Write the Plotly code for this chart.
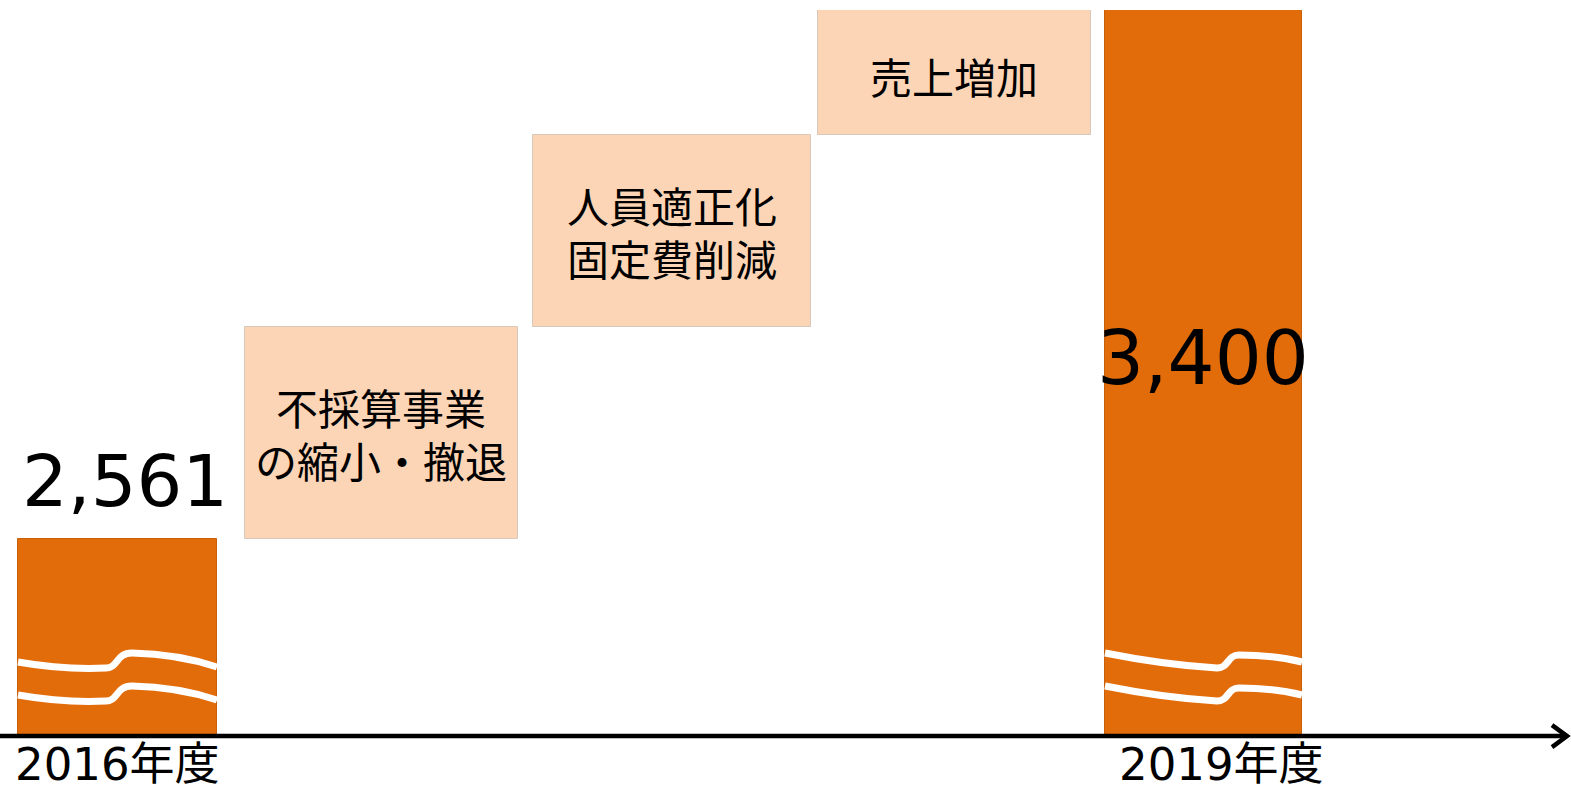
import plotly.graph_objects as go

# ---- data ----
categories = ["2016年度", "不採算事業<br>の縮小・撤退", "人員適正化<br>固定費削減", "売上増加", "2019年度"]
measures = ["absolute", "relative", "relative", "relative", "total"]
values = [2561, 336, 305, 198, 3400]
value_labels = ["2,561", "", "", "", "3,400"]

# ---- layout / style constants ----
W, H = 1571, 789
M_T, M_B = 10, 54
AXIS_FLOOR = 2250          # broken-axis floor (value shown at the baseline)
Y_TOP = 3400
X_UNIT_PX = 271.5
X_FIRST_PX = 117.5
PLOT_H = H - M_T - M_B
PY = PLOT_H / (Y_TOP - AXIS_FLOOR)     # px per value unit

bar_offsets = [-0.3665, -0.5304, -0.4696, -0.4199, -0.3628]
bar_widths = [0.733, 1.0055, 1.024, 1.0055, 0.7256]
ORANGE = "#E36C0A"
PEACH = "#FBD5B5"
FONT_NUM = "DejaVu Sans, Noto Sans CJK JP"
FONT_JP = "Noto Sans CJK JP"
BOX_FONT = 42
BOX_LINE_GAP = 52.6

# running bases / heights
bases, heights, colors = [], [], []
running = 0
for m, v in zip(measures, values):
    if m == "relative":
        bases.append(running)
        heights.append(v)
        running += v
        colors.append(PEACH)
    else:
        bases.append(AXIS_FLOOR)
        heights.append(v - AXIS_FLOOR)
        running = v
        colors.append(ORANGE)

xs = list(range(len(categories)))
line_colors = ["rgba(200,95,10,1)" if c == ORANGE else "rgba(215,200,188,1)" for c in colors]

fig = go.Figure()
fig.add_trace(go.Bar(
    x=xs, y=heights, base=bases, offset=bar_offsets, width=bar_widths,
    marker=dict(color=colors, line=dict(color=line_colors, width=1)),
    hoverinfo="skip", showlegend=False,
))

annotations = []
shapes = []

for i, (cat, m) in enumerate(zip(categories, measures)):
    center = xs[i] + bar_offsets[i] + bar_widths[i] / 2
    if m == "relative":
        lines = cat.split("<br>")
        n = len(lines)
        for k, ln in enumerate(lines):
            shift = ((n - 1) / 2 - k) * BOX_LINE_GAP
            annotations.append(dict(
                x=center, y=bases[i] + heights[i] / 2, xref="x", yref="y",
                text=ln, showarrow=False, xanchor="center", yanchor="middle",
                yshift=shift + (-3 if i == 3 else 0), height=BOX_LINE_GAP - 2,
                font=dict(family=FONT_JP, size=BOX_FONT, color="black"),
            ))
    else:
        annotations.append(dict(
            x=center, y=AXIS_FLOOR, xref="x", yref="y", text=cat, showarrow=False,
            xanchor="center", yanchor="middle", yshift=-29, xshift=(0 if i == 0 else 18),
            height=46,
            font=dict(family=FONT_NUM, size=45, color="black"),
        ))

# value labels
annotations.append(dict(
    x=xs[0] + bar_offsets[0] + bar_widths[0] / 2, y=values[0], xref="x", yref="y",
    text=value_labels[0], showarrow=False, xanchor="center", yanchor="middle",
    xshift=7, yshift=58, font=dict(family=FONT_NUM, size=72, color="black"),
))
annotations.append(dict(
    x=xs[4] + bar_offsets[4] + bar_widths[4] / 2, y=values[4], xref="x", yref="y",
    text=value_labels[4], showarrow=False, xanchor="center", yanchor="middle",
    xshift=-1, yshift=-348, font=dict(family=FONT_NUM, size=74, color="black"),
))

# wavy break marks on the total bars (pixel offsets relative to bar's left/base)
wave_specs = {
    0: [(0, 73), (45, 65), (88, 67), (100, 67), (98, 82), (114, 82), (160, 81), (199, 68)],
    4: [(0, 82), (60, 70), (112, 67), (124, 67), (122, 80), (134, 80), (170, 80), (197, 73)],
}
for i, pts in wave_specs.items():
    left = xs[i] + bar_offsets[i]
    for dy in (0, -33):
        def P(p):
            return f"{left + p[0] / X_UNIT_PX},{AXIS_FLOOR + (p[1] + dy) / PY}"
        path = (f"M{P(pts[0])} Q{P(pts[1])} {P(pts[2])} "
                f"C{P(pts[3])} {P(pts[4])} {P(pts[5])} Q{P(pts[6])} {P(pts[7])}")
        shapes.append(dict(type="path", xref="x", yref="y", path=path,
                           line=dict(color="white", width=7), layer="above"))

# baseline axis with open arrow head (paper refs so nothing is clipped)
shapes.append(dict(type="line", xref="paper", yref="paper", x0=0, x1=0.9975,
                   y0=-0.0015, y1=-0.0015, line=dict(color="black", width=4.5),
                   layer="above"))
shapes.append(dict(type="path", xref="paper", yref="paper", xsizemode="pixel", ysizemode="pixel",
                   xanchor=1, yanchor=-0.0015, path="M-19,11 L-4,0 L-19,-11",
                   line=dict(color="black", width=4.5), layer="above"))

x_lo = -X_FIRST_PX / X_UNIT_PX
x_hi = (W - X_FIRST_PX) / X_UNIT_PX

fig.update_layout(
    width=W, height=H,
    margin=dict(l=0, r=0, t=M_T, b=M_B, pad=0),
    paper_bgcolor="white", plot_bgcolor="white",
    xaxis=dict(range=[x_lo, x_hi], visible=False, fixedrange=True),
    yaxis=dict(range=[AXIS_FLOOR, Y_TOP], visible=False, fixedrange=True),
    annotations=annotations, shapes=shapes, bargap=0,
)

fig.write_html("out.html", config={"displayModeBar": False})
